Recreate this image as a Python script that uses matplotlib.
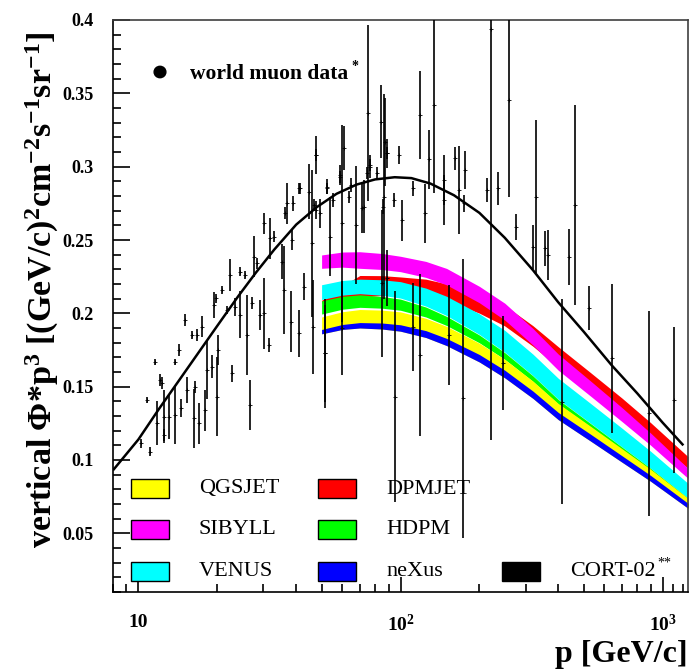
import matplotlib
matplotlib.use("Agg")
import matplotlib.pyplot as plt
from matplotlib.patches import Rectangle, Circle
from matplotlib.ticker import FixedLocator, NullFormatter
import numpy as np

plt.rcParams['font.family'] = ['Liberation Serif', 'DejaVu Serif']
plt.rcParams['mathtext.fontset'] = 'custom'
plt.rcParams['mathtext.rm'] = 'Liberation Serif:bold'
plt.rcParams['mathtext.bf'] = 'Liberation Serif:bold'
plt.rcParams['mathtext.it'] = 'Liberation Serif:bold:italic'

# ---------------- data ----------------
# CORT-02 curve
cort_p = [8, 10, 12, 14, 17, 20, 24, 28, 33, 40, 48, 57, 68, 80, 95, 110, 130, 160, 200, 250,
          320, 400, 500, 640, 800, 1000, 1200]
cort_y = [0.093, 0.114, 0.135, 0.152, 0.1735, 0.1915, 0.2115, 0.2275, 0.2435, 0.2605, 0.2725,
          0.2815, 0.2878, 0.2913, 0.2928, 0.2922, 0.2885, 0.2805, 0.2685, 0.2515, 0.2295, 0.2075,
          0.1875, 0.1645, 0.1455, 0.1255, 0.110]

# model bands (shared momentum grid)
band_p = [50, 60, 70, 85, 100, 125, 150, 200, 250, 320, 400, 530, 700, 900, 1250]
dpmjet_lo = [0.2068, 0.2099, 0.2110, 0.2122, 0.2123, 0.2113, 0.2086, 0.2001, 0.1914, 0.1776, 0.1632, 0.1467, 0.1302, 0.1153, 0.0943]
dpmjet_hi = [0.2088, 0.2188, 0.2258, 0.2257, 0.2248, 0.2233, 0.2201, 0.2130, 0.2054, 0.1916, 0.1772, 0.1597, 0.1422, 0.1255, 0.1023]
sibyll_lo = [0.2307, 0.2315, 0.2307, 0.2299, 0.2284, 0.2245, 0.2194, 0.2072, 0.1954, 0.1784, 0.1612, 0.1437, 0.1262, 0.1101, 0.0875]
sibyll_hi = [0.2398, 0.2418, 0.2420, 0.2408, 0.2389, 0.2354, 0.2306, 0.2184, 0.2069, 0.1897, 0.1722, 0.1540, 0.1357, 0.1184, 0.0943]
venus_lo = [0.2094, 0.2124, 0.2134, 0.2123, 0.2104, 0.2049, 0.1985, 0.1856, 0.1735, 0.1576, 0.1414, 0.1252, 0.1089, 0.0944, 0.0739]
venus_hi = [0.2195, 0.2224, 0.2233, 0.2229, 0.2216, 0.2172, 0.2116, 0.1997, 0.1884, 0.1722, 0.1557, 0.1387, 0.1217, 0.1060, 0.0841]
hdpm_lo = [0.1995, 0.2028, 0.2041, 0.2035, 0.2021, 0.1975, 0.1917, 0.1799, 0.1686, 0.1536, 0.1381, 0.1226, 0.1070, 0.0929, 0.0731]
hdpm_hi = [0.2085, 0.2116, 0.2126, 0.2115, 0.2097, 0.2043, 0.1979, 0.1852, 0.1732, 0.1574, 0.1412, 0.1250, 0.1088, 0.0943, 0.0739]
qgsjet_lo = [0.1860, 0.1890, 0.1900, 0.1893, 0.1878, 0.1835, 0.1780, 0.1668, 0.1560, 0.1420, 0.1275, 0.1130, 0.0985, 0.0855, 0.0671]
qgsjet_hi = [0.1975, 0.2011, 0.2026, 0.2022, 0.2010, 0.1966, 0.1911, 0.1796, 0.1686, 0.1538, 0.1385, 0.1231, 0.1077, 0.0937, 0.0739]
nexus_lo = [0.1860, 0.1890, 0.1900, 0.1893, 0.1878, 0.1835, 0.1780, 0.1668, 0.1560, 0.1420, 0.1275, 0.1130, 0.0985, 0.0855, 0.0671]
nexus_hi = [0.1890, 0.1924, 0.1937, 0.1934, 0.1922, 0.1882, 0.1829, 0.1719, 0.1612, 0.1470, 0.1324, 0.1177, 0.1029, 0.0895, 0.0705]

# world muon data (momentum, flux*p^3, error)
data_p = [10.2, 11.1, 10.8, 11.6, 12.1, 12.3, 11.8, 12.5, 12.5, 13.1, 13.8, 13.8, 14.3, 14.6, 15.1,
          15.3, 16.0, 16.3, 16.5, 16.8, 17.0, 17.5, 18.0, 18.3, 19.1, 19.4, 19.7, 19.9, 20.2, 20.9,
          21.8, 22.4, 22.7, 23.4, 24.5, 24.5, 25.6, 26.0, 26.7, 27.2, 27.6, 28.4, 29.2, 30.1, 30.1,
          31.4, 31.9, 32.8, 35.4, 35.9, 36.4, 36.9, 38.1, 38.6, 40.9, 41.5, 42.7, 44.6, 45.9, 46.6,
          47.4, 49.4, 51.7, 52.5, 54.0, 58.9, 59.9, 63.7, 67.5, 72.4, 74.5, 76.8, 81.0, 86.4, 88.8,
          95.0, 75.1, 134.6, 222, 259, 328, 87.5, 84.3, 88.8, 98.3, 119, 128, 161, 167, 177,
          146, 213, 236, 275, 60.8, 47.4, 40.9, 58.9, 76.8, 320, 357, 366, 441, 464, 524,
          413, 640, 891, 1110, 173, 245, 112, 119, 153, 60.0, 46.3, 51.3, 85.0, 88.8, 39.0,
          47.4, 52.5, 55.5, 65.0, 71.3, 86.0, 94.2, 101, 112, 124.5, 146, 174]
data_y = [0.1114, 0.1057, 0.141, 0.167, 0.1545, 0.1523, 0.125, 0.1295, 0.117, 0.1295, 0.167, 0.1307, 0.175, 0.1353, 0.1955,
          0.1477, 0.1852, 0.1284, 0.150, 0.1852, 0.125, 0.1909, 0.134, 0.1614, 0.1636, 0.2057, 0.2102, 0.1432, 0.175, 0.2159,
          0.2023, 0.2261, 0.1591, 0.2045, 0.2284, 0.1989, 0.2261, 0.1852, 0.1375, 0.2068, 0.2386, 0.234, 0.1989, 0.2614, 0.200,
          0.1784, 0.2511, 0.2523, 0.2352, 0.2159, 0.2682, 0.275, 0.1943, 0.250, 0.1864, 0.2852, 0.2182, 0.283, 0.2477, 0.2739,
          0.308, 0.2682, 0.1727, 0.2852, 0.2523, 0.2932, 0.2614, 0.2795, 0.2602, 0.2727, 0.2955, 0.3011, 0.2955, 0.2795, 0.3091,
          0.1432, 0.3364, 0.342, 0.3937, 0.3455, 0.2795, 0.317, 0.3307, 0.309, 0.308, 0.3352, 0.305, 0.3057, 0.2841, 0.2977,
          0.2909, 0.2841, 0.2852, 0.259, 0.3125, 0.308, 0.2852, 0.2943, 0.300, 0.2454, 0.2443, 0.2398, 0.2386, 0.2739, 0.2034,
          0.1398, 0.1693, 0.1318, 0.141, 0.142, 0.166, 0.1909, 0.1716, 0.1852, 0.1898, 0.1909, 0.1727, 0.2205, 0.2239, 0.275,
          0.2705, 0.2864, 0.2773, 0.2875, 0.2716, 0.2727, 0.2773, 0.2636, 0.2852, 0.2682, 0.2773, 0.275]
data_err = [0.003, 0.003, 0.002, 0.002, 0.004, 0.004, 0.015, 0.018, 0.004, 0.015, 0.002, 0.02, 0.004, 0.006, 0.004,
            0.009, 0.003, 0.02, 0.004, 0.004, 0.014, 0.007, 0.014, 0.02, 0.008, 0.009, 0.003, 0.027, 0.01, 0.003,
            0.003, 0.011, 0.006, 0.006, 0.003, 0.016, 0.003, 0.027, 0.017, 0.004, 0.014, 0.004, 0.01, 0.007, 0.024,
            0.005, 0.014, 0.004, 0.012, 0.03, 0.004, 0.014, 0.021, 0.007, 0.016, 0.004, 0.009, 0.019, 0.05, 0.004,
            0.004, 0.01, 0.033, 0.004, 0.027, 0.004, 0.067, 0.004, 0.04, 0.018, 0.004, 0.004, 0.004, 0.07, 0.004,
            0.072, 0.06, 0.06, 0.28, 0.066, 0.052, 0.03, 0.025, 0.01, 0.006, 0.03, 0.02, 0.008, 0.03, 0.013,
            0.017, 0.008, 0.011, 0.009, 0.015, 0.013, 0.004, 0.007, 0.008, 0.015, 0.012, 0.017, 0.019, 0.068, 0.015,
            0.07, 0.051, 0.07, 0.05, 0.095, 0.032, 0.03, 0.055, 0.034, 0.032, 0.032, 0.037, 0.05, 0.019, 0.005,
            0.006, 0.005, 0.005, 0.005, 0.017, 0.005, 0.005, 0.014, 0.005, 0.02, 0.017, 0.006]

y_ticks = [0.05, 0.1, 0.15, 0.2, 0.25, 0.3, 0.35, 0.4]
y_ticklabels = ['0.05', '0.1', '0.15', '0.2', '0.25', '0.3', '0.35', '0.4']
x_ticks = [10, 100, 1000]
x_ticklabels = ['10', r'$10^{2}$', r'$10^{3}$']

# ---------------- figure ----------------
W, H = 691, 670
fig = plt.figure(figsize=(W / 100, H / 100), dpi=100)
L, R, T, B = 113, 688, 20, 592
ax = fig.add_axes([L / W, 1 - B / H, (R - L) / W, (B - T) / H])
ax.set_xscale('log')
ax.set_xlim(8, 1250)
ax.set_ylim(0.01, 0.4)

bands = [
    (dpmjet_lo, dpmjet_hi, '#ff0000'),
    (sibyll_lo, sibyll_hi, '#ff00ff'),
    (venus_lo, venus_hi, '#00ffff'),
    (hdpm_lo, hdpm_hi, '#00ff00'),
    (qgsjet_lo, qgsjet_hi, '#ffff00'),
    (nexus_lo, nexus_hi, '#0000ff'),
]
for lo, hi, c in bands:
    ax.fill_between(band_p, lo, hi, color=c, lw=0, zorder=2)

ax.errorbar(data_p, data_y, yerr=data_err, fmt='+', color='black', ms=3, mew=0.6,
            elinewidth=1.2, capsize=0, zorder=3)

ax.plot(cort_p, cort_y, color='black', lw=1.8, zorder=4, solid_capstyle='butt',
        solid_joinstyle='round')

for s in ['top', 'right']:
    ax.spines[s].set_color('#404040')
for s in ['left', 'bottom']:
    ax.spines[s].set_color('black')
for s in ax.spines.values():
    s.set_linewidth(1.2)

ax.yaxis.set_major_locator(FixedLocator(y_ticks))
ax.yaxis.set_minor_locator(FixedLocator(list(np.round(np.arange(0.01, 0.401, 0.01), 3))))
ax.set_yticklabels(y_ticklabels)
ax.xaxis.set_major_locator(FixedLocator(x_ticks))
ax.set_xticklabels(x_ticklabels)
minors = [8, 9] + [i * 10 for i in range(2, 10)] + [i * 100 for i in range(2, 10)] + [1100, 1200]
ax.xaxis.set_minor_locator(FixedLocator(minors))
ax.xaxis.set_minor_formatter(NullFormatter())

ax.tick_params(which='both', direction='in', top=False, right=False)
ax.tick_params(axis='y', which='major', length=12, width=1.2, pad=14, labelsize=13)
ax.tick_params(axis='y', which='minor', length=6, width=1.2)
ax.tick_params(axis='x', which='major', length=11, width=1.2, pad=16, labelsize=14)
ax.tick_params(axis='x', which='minor', length=6, width=1.2)
for lab in ax.get_yticklabels() + ax.get_xticklabels():
    lab.set_fontweight('bold')

fig.text(688 / W, 1 - 662 / H, 'p [GeV/c]', ha='right', va='baseline', fontsize=23,
         fontweight='bold')
fig.text(42 / W, 1 - 290 / H,
         r'vertical Φ*p$^{3}$ [(GeV/c)$^{2}$cm$^{-2}$s$^{-1}$sr$^{-1}$]',
         rotation=90, ha='center', va='center', fontsize=24.5, fontweight='bold')

fig.patches.append(Circle((160 / W, 1 - 72 / H), 0.0085, transform=fig.transFigure,
                          facecolor='black', edgecolor='black'))
fig.text(190 / W, 1 - 74 / H, 'world muon data', ha='left', va='center', fontsize=15.5,
         fontweight='bold')
fig.text(351 / W, 1 - 66 / H, '*', ha='left', va='center', fontsize=10, fontweight='bold')

entries = [
    ('QGSJET', '#ffff00', 131, 479),
    ('SIBYLL', '#ff00ff', 131, 520),
    ('VENUS', '#00ffff', 131, 562),
    ('DPMJET', '#ff0000', 318, 479),
    ('HDPM', '#00ff00', 318, 520),
    ('neXus', '#0000ff', 318, 562),
    ('CORT-02', '#000000', 502, 562),
]
for name, col, x0, y0 in entries:
    fig.patches.append(Rectangle((x0 / W, 1 - (y0 + 19) / H), 38 / W, 19 / H,
                                 transform=fig.transFigure, facecolor=col,
                                 edgecolor='black', lw=1.0))
    fig.text((x0 + 68) / W, 1 - (y0 + 10) / H, name, ha='left', va='center', fontsize=16)
fig.text(657 / W, 1 - 563 / H, '**', ha='left', va='center', fontsize=10)

fig.savefig('out.png', dpi=100)
